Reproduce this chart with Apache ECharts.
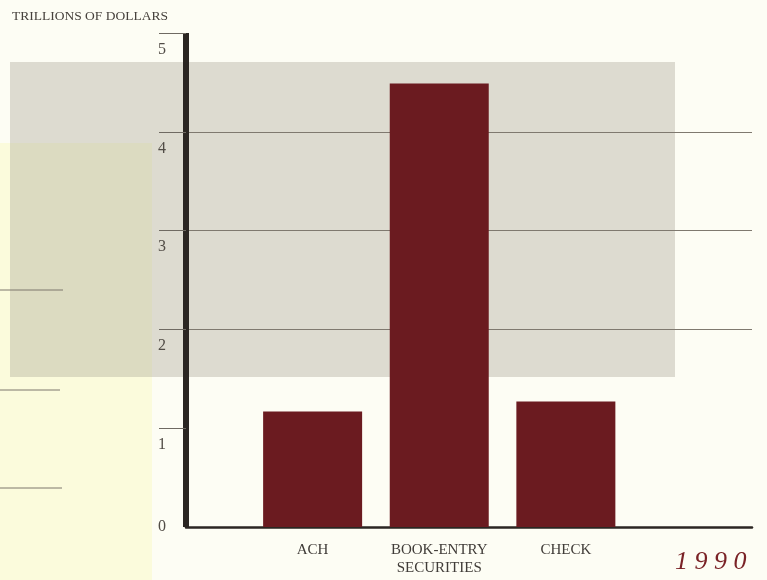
<!DOCTYPE html>
<html>
<head>
<meta charset="utf-8">
<script src="https://cdn.jsdelivr.net/npm/echarts@6/dist/echarts.min.js"></script>
<style>
  html, body { margin: 0; padding: 0; background: #fdfdf4; }
  #chart { width: 767px; height: 580px; }
</style>
</head>
<body>
<div id="chart"></div>
<script>
// Funds transferred by payment type, 1990 (trillions of dollars)
const categories = ['ACH', 'BOOK-ENTRY\nSECURITIES', 'CHECK'];
const values = [1.17, 4.49, 1.27];
const yTicks = [0, 1, 2, 3, 4, 5];
const unitLabel = 'TRILLIONS OF DOLLARS';
const yearLabel = '1990';

const SERIF = '"Liberation Serif", "DejaVu Serif", serif';
const INK = '#2b2622';

const chart = echarts.init(document.getElementById('chart'), null, { renderer: 'canvas' });

// bars sit at slots 1..n along a plain numeric x scale
const barData = values.map((v, i) => [i + 1, v]);

chart.setOption({
  backgroundColor: '#fdfdf4',
  animation: false,
  title: {
    text: unitLabel,
    left: 7,
    top: 4,
    textStyle: { fontFamily: SERIF, fontSize: 13.5, fontWeight: 'normal', color: '#46413c' }
  },
  graphic: [
    // backdrop panels
    { type: 'rect', z: -20, silent: true, shape: { x: 0, y: 143, width: 152, height: 437 }, style: { fill: '#fbfbdc' } },
    { type: 'rect', z: -19, silent: true, shape: { x: 10, y: 62, width: 665, height: 315 }, style: { fill: '#dddbd0' } },
    { type: 'rect', z: -18, silent: true, shape: { x: 10, y: 143, width: 142, height: 234 }, style: { fill: '#dcdbc1' } },
    // short rules on the left margin
    { type: 'line', z: -17, silent: true, shape: { x1: 0, y1: 290, x2: 63, y2: 290 }, style: { stroke: '#7d776c', lineWidth: 1 } },
    { type: 'line', z: -17, silent: true, shape: { x1: 0, y1: 390, x2: 60, y2: 390 }, style: { stroke: '#7d776c', lineWidth: 1 } },
    { type: 'line', z: -17, silent: true, shape: { x1: 0, y1: 488, x2: 62, y2: 488 }, style: { stroke: '#7d776c', lineWidth: 1 } },
    // year
    {
      type: 'text', left: 675, top: 549,
      style: {
        text: yearLabel.split('').join(' '),
        fontFamily: SERIF, fontStyle: 'italic', fontSize: 26,
        fill: '#7a2226'
      }
    }
  ],
  grid: { left: 186, right: 15, top: 33, bottom: 53, containLabel: false },
  xAxis: {
    type: 'value',
    min: 0,
    max: 4.47,
    interval: 1,
    splitLine: { show: false },
    axisTick: { show: false },
    axisLine: { show: true, lineStyle: { color: INK, width: 2.5 } },
    axisLabel: {
      margin: 14,
      fontFamily: SERIF,
      fontSize: 15,
      lineHeight: 18,
      color: '#403c38',
      formatter: (v) => (Number.isInteger(v) && categories[v - 1]) ? categories[v - 1] : ''
    }
  },
  yAxis: {
    type: 'value',
    min: yTicks[0],
    max: yTicks[yTicks.length - 1],
    interval: 1,
    axisLine: { show: true, lineStyle: { color: INK, width: 6, cap: 'butt' } },
    axisTick: {
      show: true,
      inside: false,
      length: 27,
      customValues: yTicks.slice(1),
      lineStyle: { color: '#6f6a62', width: 1 }
    },
    splitLine: {
      show: true,
      showMinLine: false,
      showMaxLine: false,
      lineStyle: { color: '#7f796f', width: 1 }
    },
    axisLabel: {
      margin: 20,
      align: 'right',
      fontFamily: SERIF,
      fontSize: 16,
      color: '#514c46',
      formatter: (v) => v === 0 ? '{z|0}' : '{n|' + v + '}',
      rich: {
        z: { fontFamily: SERIF, fontSize: 16, color: '#514c46' },
        n: { fontFamily: SERIF, fontSize: 16, color: '#514c46', padding: [33, 0, 0, 0] }
      }
    }
  },
  series: [{
    type: 'bar',
    data: barData,
    barWidth: 99,
    itemStyle: { color: '#6b1b20' },
    z: 3
  }]
});
</script>
</body>
</html>
